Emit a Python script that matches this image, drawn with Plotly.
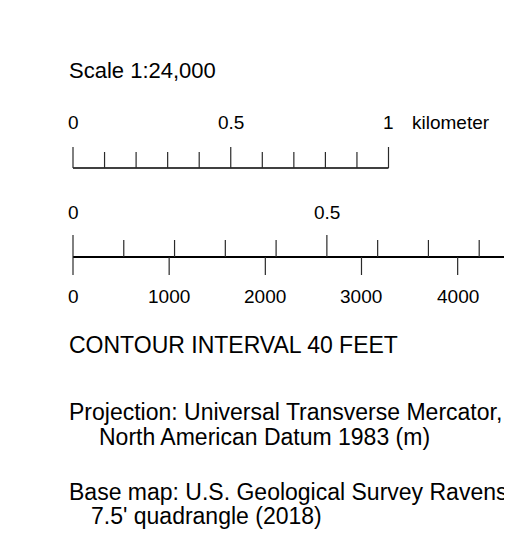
import plotly.graph_objects as go

# ---- data ----
KM_PER_MILE = 1.609344
KM_PER_FOOT = 0.0003048

km_ticks = [0.0, 0.1, 0.2, 0.3, 0.4, 0.5, 0.6, 0.7, 0.8, 0.9, 1.0]
km_major = [0.0, 0.5, 1.0]
km_labels = ["0", "0.5", "1"]
km_unit = "kilometer"

mile_ticks = [0.0, 0.1, 0.2, 0.3, 0.4, 0.5, 0.6, 0.7, 0.8, 0.9, 1.0]
mile_major = [0.0, 0.5, 1.0]
mile_labels = ["0", "0.5", "1"]

feet_ticks = [0, 1000, 2000, 3000, 4000, 5000]
feet_labels = ["0", "1000", "2000", "3000", "4000", "5000"]

title_text = "Scale 1:24,000"
contour_text = "CONTOUR INTERVAL 40 FEET"
notes = [
    "Projection: Universal Transverse Mercator,",
    "North American Datum 1983 (m)",
    "Base map: U.S. Geological Survey Ravensworth",
    "7.5' quadrangle (2018)",
]

# ---- layout geometry ----
OFF = 8                          # page body margin
W, H = 512 - OFF, 537 - 2 * OFF  # figure size
PX_PER_KM = 315.5
X0_PX = 73 - OFF
x_lo = -X0_PX / PX_PER_KM
x_hi = x_lo + W / PX_PER_KM

def py(y):  # page y -> figure y
    return y - OFF

FONT = "Liberation Sans, Arial, sans-serif"
FS_BODY = 23
FS_TITLE = 22
FS_LAB = 19
INK = "#000000"
TICK = "#2a2a2a"

fig = go.Figure()

def seg_trace(xs, y0s, y1s, color, width):
    X, Y = [], []
    for x, a, b in zip(xs, y0s, y1s):
        X += [x, x, None]
        Y += [py(a), py(b), None]
    fig.add_trace(go.Scatter(x=X, y=Y, mode="lines", line=dict(color=color, width=width),
                             hoverinfo="skip", showlegend=False))

def base_line(x0, x1, y, width):
    fig.add_trace(go.Scatter(x=[x0, x1], y=[py(y), py(y)], mode="lines",
                             line=dict(color=INK, width=width),
                             hoverinfo="skip", showlegend=False))

# kilometer bar
KM_BASE = 168
base_line(km_ticks[0], km_ticks[-1], KM_BASE, 1.4)
seg_trace(km_ticks, [KM_BASE] * len(km_ticks),
          [147 if t in km_major else 152 for t in km_ticks], TICK, 1.2)

# mile / feet bar
MI_BASE = 257
mi_km = [m * KM_PER_MILE for m in mile_ticks]
base_line(mi_km[0], mi_km[-1], MI_BASE, 1.8)
seg_trace(mi_km, [MI_BASE] * len(mi_km),
          [235 if m in mile_major else 240 for m in mile_ticks], TICK, 1.2)
ft_km = [f * KM_PER_FOOT for f in feet_ticks]
seg_trace(ft_km, [MI_BASE] * len(ft_km), [275] * len(ft_km), TICK, 1.2)

ann = []
def txt(x, y, s, size, xanchor="center"):
    ann.append(dict(x=x, y=py(y), xref="x", yref="y", text=s, showarrow=False,
                    xanchor=xanchor, yanchor="middle",
                    font=dict(family=FONT, size=size, color=INK)))

for t, lab in zip(km_major, km_labels):
    txt(t, 122, lab, FS_LAB)
txt(km_major[-1] + 21 / PX_PER_KM, 122, km_unit, FS_LAB, xanchor="left")

for m, lab in zip(mile_major, mile_labels):
    txt(m * KM_PER_MILE, 212, lab, FS_LAB)
for f, lab in zip(feet_ticks, feet_labels):
    txt(f * KM_PER_FOOT, 296, lab, FS_LAB)

def left(px, y, s, size):
    ann.append(dict(x=(px - OFF) / W, y=py(y), xref="paper", yref="y", text=s,
                    showarrow=False, xanchor="left", yanchor="middle",
                    font=dict(family=FONT, size=size, color=INK)))

left(67, 70, title_text, FS_TITLE)
left(67, 345, contour_text, FS_BODY)
note_x = [67, 97, 67, 89]
note_y = [412, 437, 492, 516]
for s, x, y in zip(notes, note_x, note_y):
    left(x, y, s, FS_BODY)

fig.update_layout(
    width=W, height=H,
    margin=dict(l=0, r=0, t=0, b=0),
    paper_bgcolor="white", plot_bgcolor="white",
    xaxis=dict(range=[x_lo, x_hi], visible=False, fixedrange=True),
    yaxis=dict(range=[H, 0], visible=False, fixedrange=True),
    annotations=ann,
    showlegend=False,
)
fig.write_html("out.html", config={"displayModeBar": False})
